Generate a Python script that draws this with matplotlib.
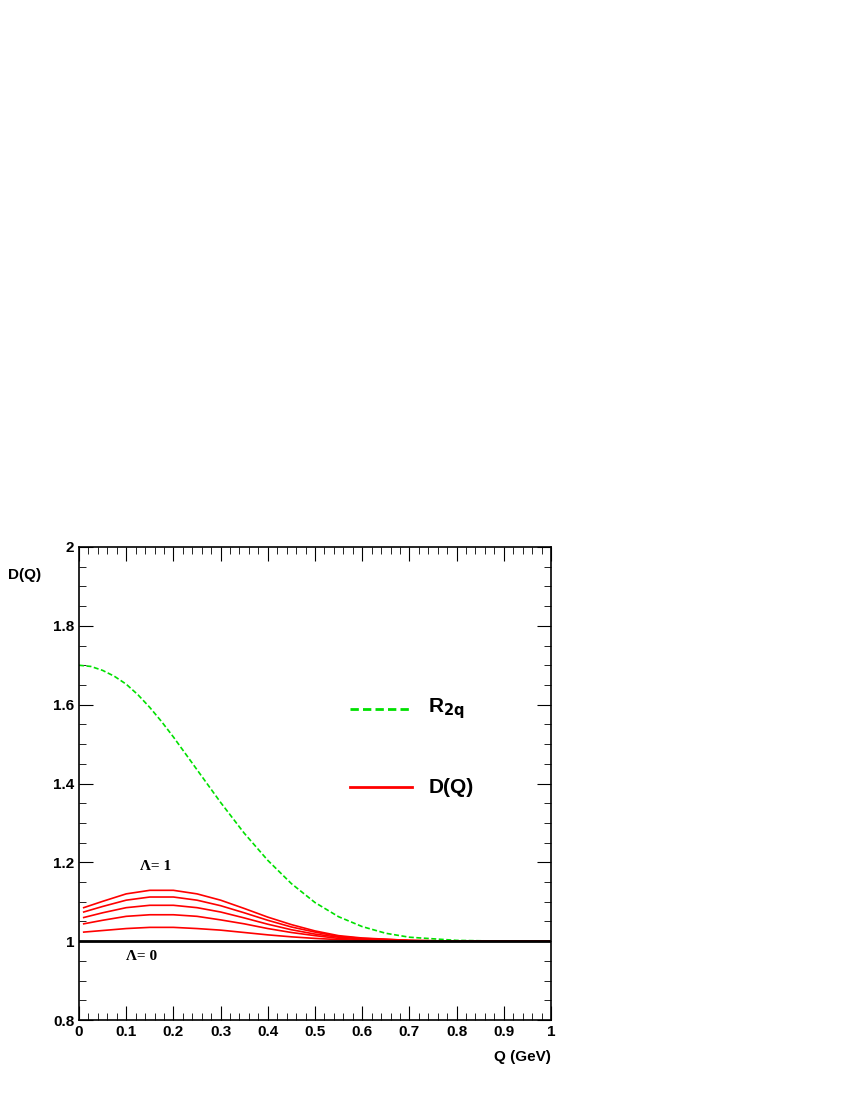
import matplotlib
matplotlib.use("Agg")
import matplotlib.pyplot as plt
from matplotlib.ticker import MultipleLocator

q_green = [0, 0.025, 0.05, 0.075, 0.1, 0.125, 0.15, 0.175, 0.2, 0.25, 0.3, 0.35, 0.4, 0.45, 0.5, 0.55, 0.6, 0.65, 0.7, 0.8, 0.9, 1.0]
r2q = [1.70, 1.697, 1.687, 1.672, 1.652, 1.625, 1.593, 1.557, 1.518, 1.435, 1.352, 1.274, 1.205, 1.146, 1.098, 1.062, 1.037, 1.020, 1.010, 1.002, 1.0, 1.0]

q_red = [0.01, 0.05, 0.1, 0.15, 0.2, 0.25, 0.3, 0.35, 0.4, 0.45, 0.5, 0.55, 0.6, 0.7, 0.8, 0.9, 1.0]
d1 = [1.085, 1.101, 1.120, 1.129, 1.129, 1.120, 1.104, 1.083, 1.061, 1.042, 1.026, 1.014, 1.008, 1.002, 1.0, 1.0, 1.0]
d2 = [1.074, 1.088, 1.104, 1.112, 1.112, 1.104, 1.090, 1.072, 1.053, 1.036, 1.023, 1.012, 1.007, 1.002, 1.0, 1.0, 1.0]
d3 = [1.060, 1.072, 1.085, 1.091, 1.091, 1.085, 1.074, 1.059, 1.043, 1.029, 1.018, 1.010, 1.006, 1.001, 1.0, 1.0, 1.0]
d4 = [1.044, 1.053, 1.063, 1.067, 1.067, 1.063, 1.054, 1.044, 1.032, 1.022, 1.014, 1.007, 1.004, 1.001, 1.0, 1.0, 1.0]
d5 = [1.023, 1.027, 1.032, 1.035, 1.035, 1.032, 1.028, 1.022, 1.016, 1.011, 1.007, 1.004, 1.002, 1.0, 1.0, 1.0, 1.0]
d_curves = [d1, d2, d3, d4, d5]
baseline_q = [0, 1]
baseline = [1, 1]
x_ticklabels = ["0", "0.1", "0.2", "0.3", "0.4", "0.5", "0.6", "0.7", "0.8", "0.9", "1"]
y_ticklabels = ["0.8", "1", "1.2", "1.4", "1.6", "1.8", "2"]

plt.rcParams["font.family"] = "Liberation Sans"
plt.rcParams["font.weight"] = "bold"
fig = plt.figure(figsize=(8.5, 11), dpi=100)
ax = fig.add_axes([79/850, 80/1100, 472/850, 473/1100])

ax.plot(q_green, r2q, color="#00e000", ls=(0, (3, 1.5)), lw=1.2)
for d in d_curves:
    ax.plot(q_red, d, color="red", lw=1.2)
ax.plot(baseline_q, baseline, color="black", lw=2)

ax.set_xlim(0, 1)
ax.set_ylim(0.8, 2)
ax.set_xticks([i/10 for i in range(11)])
ax.set_xticklabels(x_ticklabels)
ax.set_yticks([0.8, 1.0, 1.2, 1.4, 1.6, 1.8, 2.0])
ax.set_yticklabels(y_ticklabels)
ax.xaxis.set_minor_locator(MultipleLocator(0.02))
ax.yaxis.set_minor_locator(MultipleLocator(0.05))
ax.tick_params(which="both", direction="in", top=True, right=True, labelsize=11)
ax.tick_params(which="major", length=10)
ax.tick_params(which="minor", length=5)
for s in ax.spines.values():
    s.set_linewidth(1.2)

ax.plot([0.575, 0.705], [1.59, 1.59], color="#00e000", ls=(0, (3, 1.5)), lw=2)
ax.text(0.74, 1.59, r"R$_{\mathbf{2q}}$", fontsize=15, va="center", fontweight="bold")
ax.plot([0.575, 0.705], [1.39, 1.39], color="red", lw=2)
ax.text(0.74, 1.39, "D(Q)", fontsize=15, va="center", fontweight="bold")

ax.text(0.13, 1.19, "Λ= 1", fontsize=11, family="Liberation Serif", fontweight="bold", va="center")
ax.text(0.10, 0.962, "Λ= 0", fontsize=11, family="Liberation Serif", fontweight="bold", va="center")

fig.text(25/850, 1 - 575/1100, "D(Q)", fontsize=11, fontweight="bold", ha="center", va="center")
fig.text(551/850, 1 - 1057/1100, "Q (GeV)", fontsize=11, fontweight="bold", ha="right", va="center")

fig.savefig("out.png", dpi=100)
